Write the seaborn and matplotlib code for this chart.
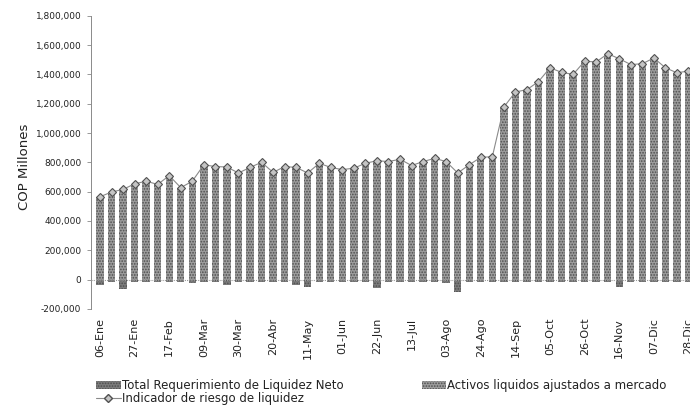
import numpy as np
import pandas as pd
import matplotlib
matplotlib.use("Agg")
import matplotlib.pyplot as plt
import seaborn as sns
from matplotlib.ticker import FuncFormatter
from matplotlib.patches import Patch
from matplotlib.lines import Line2D

semanas = [
    "06-Ene", "13-Ene", "20-Ene", "27-Ene",
    "03-Feb", "10-Feb", "17-Feb", "24-Feb",
    "02-Mar", "09-Mar", "16-Mar", "23-Mar", "30-Mar",
    "06-Abr", "13-Abr", "20-Abr", "27-Abr",
    "04-May", "11-May", "18-May", "25-May",
    "01-Jun", "08-Jun", "15-Jun", "22-Jun", "29-Jun",
    "06-Jul", "13-Jul", "20-Jul", "27-Jul",
    "03-Ago", "10-Ago", "17-Ago", "24-Ago", "31-Ago",
    "07-Sep", "14-Sep", "21-Sep", "28-Sep",
    "05-Oct", "12-Oct", "19-Oct", "26-Oct",
    "02-Nov", "09-Nov", "16-Nov", "23-Nov", "30-Nov",
    "07-Dic", "14-Dic", "21-Dic", "28-Dic",
]

# COP millones
indicador = [
    565000, 597000, 615000, 653000, 671000, 649000, 709000, 627000, 671000, 783000,
    771000, 768000, 727000, 765000, 800000, 731000, 771000, 765000, 727000, 793000,
    765000, 750000, 760000, 793000, 811000, 805000, 821000, 778000, 805000, 827000,
    805000, 727000, 783000, 834000, 838000, 1177000, 1280000, 1296000, 1351000, 1445000,
    1414000, 1400000, 1490000, 1485000, 1541000, 1507000, 1467000, 1473000, 1512000, 1445000,
    1411000, 1423000,
]

activos = [
    560000, 592000, 608000, 648000, 666000, 644000, 703000, 622000, 665000, 777000,
    766000, 762000, 722000, 760000, 794000, 726000, 765000, 759000, 720000, 787000,
    760000, 745000, 755000, 787000, 804000, 800000, 815000, 773000, 800000, 821000,
    800000, 720000, 778000, 828000, 832000, 1170000, 1273000, 1290000, 1344000, 1438000,
    1408000, 1394000, 1483000, 1479000, 1534000, 1500000, 1461000, 1467000, 1505000, 1439000,
    1405000, 1417000,
]

requerimiento = [
    -35000, -20000, -65000, -15000, -20000, -15000, -20000, -15000, -25000, -20000,
    -15000, -40000, -20000, -15000, -20000, -15000, -20000, -35000, -50000, -15000,
    -20000, -15000, -20000, -20000, -60000, -15000, -20000, -15000, -20000, -15000,
    -25000, -85000, -20000, -15000, -20000, -15000, -20000, -15000, -20000, -15000,
    -20000, -15000, -20000, -15000, -20000, -50000, -15000, -20000, -15000, -20000,
    -15000, -20000,
]

y_ticks = [-200000, 0, 200000, 400000, 600000, 800000, 1000000, 1200000, 1400000, 1600000, 1800000]

df = pd.DataFrame({
    "semana": pd.Categorical(semanas, categories=semanas, ordered=True),
    "activos": activos,
    "requerimiento": requerimiento,
    "indicador": indicador,
})

sns.set_style("white")
plt.rcParams["font.family"] = ["DejaVu Sans"]
plt.rcParams["hatch.linewidth"] = 0.8

fig = plt.figure(figsize=(6.9, 4.12), dpi=100)
ax = fig.add_axes([91 / 690, 1 - 308.8 / 412, 606.5 / 690, (308.8 - 15.8) / 412])

col_act = "#9c9c9c"
col_req = "#7c7c7c"
hatch_col = "#4e4e4e"

sns.barplot(data=df, x="semana", y="activos", color=col_act, width=0.64,
            saturation=1, ax=ax, zorder=2)
sns.barplot(data=df, x="semana", y="requerimiento", color=col_req, width=0.64,
            saturation=1, ax=ax, zorder=2)
for p in ax.patches:
    p.set_hatch("......")
    p.set_edgecolor(hatch_col)
    p.set_linewidth(0)

sns.pointplot(data=df, x="semana", y="indicador", color="#8a8a8a",
              markers="D", linestyles="-", ax=ax, zorder=4,
              markersize=4.2, linewidth=0.8,
              markerfacecolor="#c4c4c4", markeredgecolor="#505050", markeredgewidth=0.8)

ax.axhline(0, color="#9a9a9a", lw=0.8, ls=(0, (1, 1)), zorder=3)

ax.set_xlim(-0.78, 51.78)
ax.set_ylim(-200000, 1800000)
ax.set_yticks(y_ticks)
ax.yaxis.set_major_formatter(FuncFormatter(lambda v, _: f"{int(v):,}"))
ax.tick_params(axis="y", labelsize=6.5, length=3, width=0.6, color="#888888",
               pad=4, left=True, labelcolor="#222222")

tick_idx = list(range(0, len(semanas), 3))
ax.set_xticks(tick_idx)
ax.set_xticklabels([semanas[i] for i in tick_idx], rotation=90, fontsize=8, color="#222222")
ax.tick_params(axis="x", length=0, pad=6.5)

ax.set_xlabel("")
ax.set_ylabel("COP Millones", fontsize=9.5, color="#222222")
ax.yaxis.set_label_coords(-0.099, 0.486)

for s in ["top", "right", "bottom"]:
    ax.spines[s].set_visible(False)
ax.spines["left"].set_color("#8a8a8a")
ax.spines["left"].set_linewidth(0.7)
ax.spines["left"].set_linestyle((0, (2, 1)))

handles = [
    Patch(facecolor=col_req, edgecolor=hatch_col, hatch="......", linewidth=0),
    Line2D([0], [0], color="#8a8a8a", lw=0.8, marker="D", markersize=4,
           markerfacecolor="#c4c4c4", markeredgecolor="#505050"),
    Patch(facecolor=col_act, edgecolor=hatch_col, hatch="......", linewidth=0),
]
labels = [
    "Total Requerimiento de Liquidez Neto",
    "Indicador de riesgo de liquidez",
    "Activos liquidos ajustados a mercado",
]
fig.legend(handles, labels, ncol=2, loc="upper left",
           bbox_to_anchor=(96 / 690, 1 - 379 / 412), frameon=False,
           fontsize=8.5, handlelength=2.1, handleheight=0.6, handletextpad=0.1,
           columnspacing=6.6, labelspacing=0.0, borderpad=0, borderaxespad=0,
           labelcolor="#222222")

fig.savefig("out.png", dpi=100)
